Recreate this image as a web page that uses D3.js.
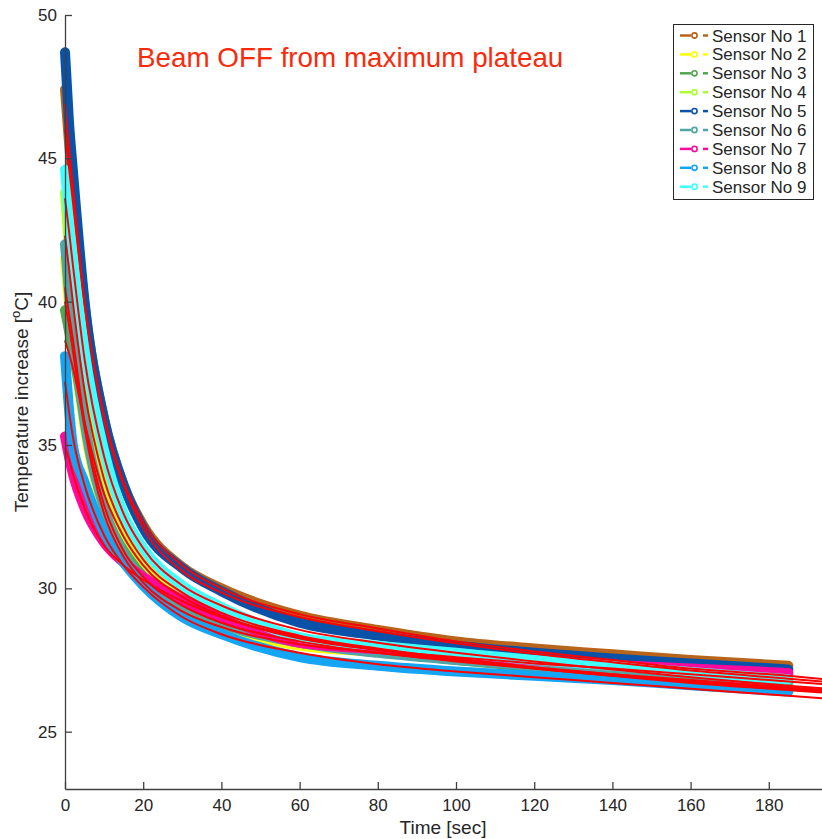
<!DOCTYPE html>
<html>
<head>
<meta charset="utf-8">
<script src="https://cdn.jsdelivr.net/npm/d3@7"></script>
<style>
  body { margin: 0; background: #fff; }
  svg { display: block; font-family: "Liberation Sans", Arial, sans-serif; }
</style>
</head>
<body>
<svg></svg>
<script>
// Chart size
var width = 822;
var height = 839;

// Sample times of the measured curves and of the fits
var dataTimes = [0, 1, 2, 5, 10, 15, 20, 30, 40, 60, 80, 100, 120, 140, 160, 185];
var fitTimes = [0, 1, 2, 5, 10, 15, 20, 30, 40, 60, 80, 100, 120, 140, 160, 185, 200];

var sensorNames = ["Sensor No 1", "Sensor No 2", "Sensor No 3", "Sensor No 4", "Sensor No 5",
  "Sensor No 6", "Sensor No 7", "Sensor No 8", "Sensor No 9"];
var sensorColors = ["#b8641a", "#ffff00", "#52a652", "#adff2f", "#0a52a8",
  "#4fa6a6", "#ff0a9c", "#14a5f5", "#40ffff"];

// Measured temperature per sensor
var sensor1 = [47.4, 45.6, 44.0, 39.9, 35.9, 33.6, 32.2, 30.75, 30.0, 29.05, 28.55, 28.15, 27.9, 27.7, 27.5, 27.3];
var sensor2 = [41.5, 39.9, 38.6, 35.6, 32.6, 31.1, 30.3, 29.25, 28.65, 28.0, 27.78, 27.55, 27.35, 27.18, 27.03, 26.85];
var sensor3 = [39.7, 39.0, 38.3, 36.0, 33.3, 31.7, 30.7, 29.6, 29.0, 28.2, 27.8, 27.5, 27.25, 27.05, 26.88, 26.65];
var sensor4 = [43.8, 41.9, 40.3, 36.8, 33.7, 32.0, 30.95, 29.8, 29.15, 28.25, 27.85, 27.55, 27.32, 27.12, 26.93, 26.72];
var sensor5 = [48.7, 46.3, 44.6, 40.0, 35.9, 33.6, 32.1, 30.7, 29.9, 28.8, 28.35, 28.0, 27.75, 27.55, 27.38, 27.17];
var sensor6 = [42.0, 40.3, 39.0, 35.8, 32.8, 31.2, 30.3, 29.3, 28.75, 28.1, 27.75, 27.5, 27.3, 27.1, 26.95, 26.75];
var sensor7 = [35.3, 34.6, 34.0, 32.8, 31.6, 30.9, 30.4, 29.6, 29.0, 28.1, 27.88, 27.65, 27.48, 27.33, 27.2, 27.05];
var sensor8 = [38.1, 36.3, 35.0, 33.7, 31.95, 30.9, 30.1, 29.0, 28.4, 27.6, 27.3, 27.1, 26.95, 26.8, 26.62, 26.4];
var sensor9 = [44.6, 43.0, 41.7, 38.3, 34.8, 32.6, 31.4, 30.1, 29.35, 28.3, 28.0, 27.75, 27.5, 27.3, 27.08, 26.83];

// Fitted curves (red)
var fit1 = [46.0, 44.7, 43.5, 39.9, 36.0, 33.7, 32.3, 30.8, 30.0, 29.1, 28.6, 28.15, 27.8, 27.5, 27.2, 26.95, 26.75];
var fit2 = [40.0, 39.2, 38.3, 35.6, 32.6, 31.1, 30.2, 29.2, 28.65, 28.05, 27.75, 27.48, 27.22, 27.0, 26.8, 26.55, 26.4];
var fit3 = [38.65, 38.2, 37.7, 35.8, 33.3, 31.8, 30.8, 29.7, 29.05, 28.3, 27.85, 27.5, 27.2, 26.95, 26.7, 26.45, 26.3];
var fit4 = [42.3, 41.2, 40.0, 36.9, 33.8, 32.1, 31.0, 29.85, 29.15, 28.35, 27.9, 27.55, 27.25, 27.0, 26.75, 26.5, 26.35];
var fit5 = [46.9, 45.4, 44.0, 40.0, 35.9, 33.6, 32.1, 30.6, 29.85, 29.0, 28.5, 28.08, 27.72, 27.42, 27.13, 26.85, 26.68];
var fit6 = [40.5, 39.6, 38.7, 35.8, 32.9, 31.3, 30.4, 29.4, 28.8, 28.15, 27.75, 27.45, 27.2, 26.95, 26.75, 26.5, 26.35];
var fit7 = [34.9, 34.5, 34.0, 32.8, 31.5, 30.8, 30.3, 29.55, 29.0, 28.25, 27.85, 27.6, 27.38, 27.2, 27.0, 26.75, 26.6];
var fit8 = [37.2, 36.2, 35.3, 33.6, 31.85, 30.8, 30.05, 29.0, 28.4, 27.75, 27.35, 27.1, 26.9, 26.7, 26.5, 26.25, 26.1];
var fit9 = [43.6, 42.5, 41.3, 38.0, 34.6, 32.6, 31.4, 30.1, 29.4, 28.55, 28.1, 27.75, 27.45, 27.17, 26.9, 26.6, 26.45];

var xTicks = [0, 20, 40, 60, 80, 100, 120, 140, 160, 180];
var yTicks = [25, 30, 35, 40, 45, 50];

var sensors = [sensor1, sensor2, sensor3, sensor4, sensor5, sensor6, sensor7, sensor8, sensor9];
var fits = [fit1, fit2, fit3, fit4, fit5, fit6, fit7, fit8, fit9];

var svg = d3.select("svg")
  .attr("width", width)
  .attr("height", height);

// Plot area (the right edge of the axes runs past the picture)
var plotLeft = 65, plotTop = 15, plotBottom = 789;
var x = d3.scaleLinear().domain([0, 200]).range([plotLeft, plotLeft + 200 * 3.91]);
var y = d3.scaleLinear().domain([23, 50]).range([plotBottom, plotTop]);

var axisColor = "#404040";
var textColor = "#262626";

// Measured data as thick bands of markers
var dataLine = d3.line()
  .x(function(d) { return x(d[0]); })
  .y(function(d) { return y(d[1]); })
  .curve(d3.curveMonotoneX);

sensors.forEach(function(values, i) {
  svg.append("path")
    .datum(values.map(function(v, j) { return [dataTimes[j], v]; }))
    .attr("d", dataLine)
    .attr("fill", "none")
    .attr("stroke", sensorColors[i])
    .attr("stroke-width", 10)
    .attr("stroke-linecap", "round")
    .attr("stroke-linejoin", "round");
});

// Fits on top
fits.forEach(function(values) {
  svg.append("path")
    .datum(values.map(function(v, j) { return [fitTimes[j], v]; }))
    .attr("d", dataLine)
    .attr("fill", "none")
    .attr("stroke", "#ff0000")
    .attr("stroke-width", 2);
});

// Axes, ticks pointing inward
var xAxis = svg.append("g")
  .attr("transform", "translate(0," + plotBottom + ")")
  .call(d3.axisBottom(x).tickValues(xTicks).tickSizeInner(-7).tickSizeOuter(0).tickPadding(10));
var yAxis = svg.append("g")
  .attr("transform", "translate(" + plotLeft + ",0)")
  .call(d3.axisLeft(y).tickValues(yTicks).tickSizeInner(-7).tickSizeOuter(0).tickPadding(8));

[xAxis, yAxis].forEach(function(g) {
  g.select(".domain").attr("stroke", axisColor).attr("stroke-width", 1.3);
  g.selectAll(".tick line").attr("stroke", axisColor).attr("stroke-width", 1.3);
  g.selectAll(".tick text")
    .attr("fill", textColor)
    .style("font-size", "17px")
    .style("font-family", "Liberation Sans, Arial, sans-serif");
});
yAxis.selectAll(".tick text").attr("x", -8);

// Axis labels
svg.append("text")
  .attr("x", 443)
  .attr("y", 834)
  .attr("text-anchor", "middle")
  .attr("fill", textColor)
  .style("font-size", "19px")
  .text("Time [sec]");

var yLabel = svg.append("text")
  .attr("transform", "translate(28,402) rotate(-90)")
  .attr("text-anchor", "middle")
  .attr("fill", textColor)
  .style("font-size", "19px");
yLabel.append("tspan").text("Temperature increase [");
yLabel.append("tspan").attr("dy", -8).style("font-size", "13px").text("o");
yLabel.append("tspan").attr("dy", 8).text("C]");

// Annotation
svg.append("text")
  .attr("x", 137)
  .attr("y", 67)
  .attr("fill", "#fa2a0a")
  .style("font-size", "27.8px")
  .text("Beam OFF from maximum plateau");

// Legend
var legend = svg.append("g");
legend.append("rect")
  .attr("x", 673.5)
  .attr("y", 24.5)
  .attr("width", 140)
  .attr("height", 175)
  .attr("fill", "#fff")
  .attr("stroke", textColor)
  .attr("stroke-width", 1);

sensorNames.forEach(function(name, i) {
  var cy = 35.5 + i * 18.9;
  var row = legend.append("g");
  row.append("line")
    .attr("x1", 680).attr("x2", 691).attr("y1", cy).attr("y2", cy)
    .attr("stroke", sensorColors[i]).attr("stroke-width", 2.5);
  row.append("circle")
    .attr("cx", 694.5).attr("cy", cy).attr("r", 2.6)
    .attr("fill", "none").attr("stroke", sensorColors[i]).attr("stroke-width", 1.6);
  row.append("line")
    .attr("x1", 703).attr("x2", 708).attr("y1", cy).attr("y2", cy)
    .attr("stroke", sensorColors[i]).attr("stroke-width", 2.5);
  row.append("text")
    .attr("x", 712)
    .attr("y", cy + 6)
    .attr("fill", textColor)
    .style("font-size", "17px")
    .text(name);
});
</script>
</body>
</html>
